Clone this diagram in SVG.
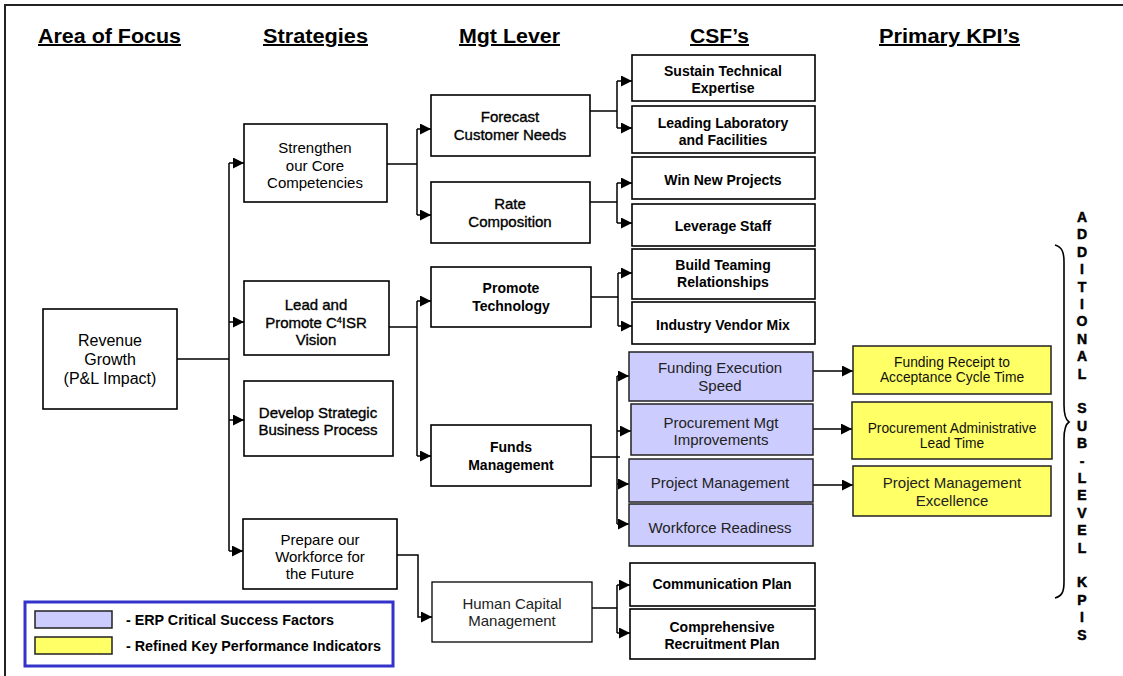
<svg xmlns="http://www.w3.org/2000/svg" width="1123" height="676" viewBox="0 0 1123 676">
<style>
text{font-family:"Liberation Sans",Arial,sans-serif;fill:#000;text-anchor:middle}
.hd{font-size:20px;font-weight:bold;text-decoration:underline;text-anchor:start}
.box{fill:#fff;stroke:#000;stroke-width:1.6}
.lav{fill:#ccccff;stroke:#222;stroke-width:1.5}
.yel{fill:#ffff66;stroke:#222;stroke-width:1.5}
.r{font-size:15px}
.m{font-size:15px;stroke:#000;stroke-width:0.35}
.b{font-size:14px;font-weight:bold}
.l{font-size:15px;fill:#222}
.y{font-size:13.8px;fill:#111}
.c{fill:none;stroke:#000;stroke-width:1.5}
.a{marker-end:url(#ah)}
.vt{font-size:14px;font-weight:bold;stroke:#000;stroke-width:0.5}
</style>
<defs>
<marker id="ah" markerUnits="userSpaceOnUse" markerWidth="12" markerHeight="11" refX="11" refY="5.5" orient="auto">
<path d="M0,0 L11,5.5 L0,11 Z" fill="#000"/>
</marker>
</defs>
<rect width="1123" height="676" fill="#fff"/>
<path d="M5,676 V5 H1123" fill="none" stroke="#222" stroke-width="2"/>

<g id="headers">
<text class="hd" x="38" y="43" textLength="143" lengthAdjust="spacingAndGlyphs">Area of Focus</text>
<text class="hd" x="263" y="43" textLength="105" lengthAdjust="spacingAndGlyphs">Strategies</text>
<text class="hd" x="459" y="43" textLength="101" lengthAdjust="spacingAndGlyphs">Mgt Lever</text>
<text class="hd" x="690" y="43" textLength="59" lengthAdjust="spacingAndGlyphs">CSF’s</text>
<text class="hd" x="879" y="43" textLength="141" lengthAdjust="spacingAndGlyphs">Primary KPI’s</text>
</g>

<g id="connectors">
<path class="c" d="M177,359 H229 M229,163 V551"/>
<path class="c a" d="M229,163 H244"/>
<path class="c a" d="M229,322 H244"/>
<path class="c a" d="M229,420 H244"/>
<path class="c a" d="M229,551 H243"/>
<path class="c" d="M387,164 H417 M417,129 V215"/>
<path class="c a" d="M417,129 H431"/>
<path class="c a" d="M417,215 H431"/>
<path class="c" d="M590,111 H617 M617,81 V128"/>
<path class="c a" d="M617,81 H632"/>
<path class="c a" d="M617,128 H632"/>
<path class="c" d="M590,202 H617 M617,183 V223"/>
<path class="c a" d="M617,183 H632"/>
<path class="c a" d="M617,223 H632"/>
<path class="c" d="M389,327 H417 M417,301 V456"/>
<path class="c a" d="M417,301 H431"/>
<path class="c a" d="M417,456 H431"/>
<path class="c" d="M591,297 H618 M618,273 V326"/>
<path class="c a" d="M618,273 H632"/>
<path class="c a" d="M618,326 H632"/>
<path class="c" d="M591,457 H620 M617,376 V524"/>
<path class="c a" d="M617,376 H629"/>
<path class="c a" d="M617,431 H631"/>
<path class="c a" d="M617,484 H629"/>
<path class="c a" d="M617,524 H629"/>
<path class="c a" d="M397,555 H418 V617 H432"/>
<path class="c" d="M592,608 H617 M617,585 V633"/>
<path class="c a" d="M617,585 H630"/>
<path class="c a" d="M617,633 H630"/>
<path class="c a" d="M813,371 H853"/>
<path class="c a" d="M813,429 H852"/>
<path class="c a" d="M813,485 H853"/>
</g>

<g id="revenue">
<rect class="box" x="43" y="309" width="134" height="100"/>
<text class="r" style="font-size:16px" x="110" y="346">Revenue</text>
<text class="r" style="font-size:16px" x="110" y="365">Growth</text>
<text class="r" style="font-size:16px" x="110" y="384">(P&amp;L Impact)</text>
</g>

<g id="strengthen">
<rect class="box" x="244" y="124" width="143" height="78"/>
<text class="r" x="315" y="153">Strengthen</text>
<text class="r" x="315" y="170.5">our Core</text>
<text class="r" x="315" y="188">Competencies</text>
</g>
<g id="lead">
<rect class="box" x="244" y="281" width="145" height="74"/>
<text class="m" x="316" y="310">Lead and</text>
<text class="m" x="316" y="328">Promote C<tspan font-size="9" dy="-5">4</tspan><tspan dy="5">ISR</tspan></text>
<text class="m" x="316" y="345">Vision</text>
</g>
<g id="develop">
<rect class="box" x="244" y="381" width="149" height="75"/>
<text class="m" x="318" y="418">Develop Strategic</text>
<text class="m" x="318" y="435">Business Process</text>
</g>
<g id="prepare">
<rect class="box" x="243" y="519" width="154" height="70"/>
<text class="r" x="320" y="545">Prepare our</text>
<text class="r" x="320" y="562">Workforce for</text>
<text class="r" x="320" y="579">the Future</text>
</g>

<g id="forecast">
<rect class="box" x="431" y="95" width="159" height="61"/>
<text class="m" x="510" y="122">Forecast</text>
<text class="m" x="510" y="140">Customer Needs</text>
</g>
<g id="rate">
<rect class="box" x="431" y="182" width="159" height="61"/>
<text class="m" x="510" y="209">Rate</text>
<text class="m" x="510" y="227">Composition</text>
</g>
<g id="promote-tech">
<rect class="box" x="431" y="267" width="160" height="60"/>
<text class="b" x="511" y="293">Promote</text>
<text class="b" x="511" y="311">Technology</text>
</g>
<g id="funds">
<rect class="box" x="431" y="425" width="160" height="61"/>
<text class="b" x="511" y="452">Funds</text>
<text class="b" x="511" y="470">Management</text>
</g>
<g id="human-capital">
<rect class="box" x="432" y="582" width="160" height="60" style="stroke-width:1.3"/>
<text class="l" x="512" y="609">Human Capital</text>
<text class="l" x="512" y="626">Management</text>
</g>

<g id="sustain">
<rect class="box" x="632" y="55" width="183" height="46"/>
<text class="b" x="723" y="76">Sustain Technical</text>
<text class="b" x="723" y="93">Expertise</text>
</g>
<g id="leading">
<rect class="box" x="632" y="106" width="183" height="47"/>
<text class="b" x="723" y="128">Leading Laboratory</text>
<text class="b" x="723" y="145">and Facilities</text>
</g>
<g id="win">
<rect class="box" x="632" y="157" width="183" height="42"/>
<text class="b" x="723" y="185">Win New Projects</text>
</g>
<g id="leverage">
<rect class="box" x="632" y="204" width="183" height="42"/>
<text class="b" x="723" y="231">Leverage Staff</text>
</g>
<g id="build">
<rect class="box" x="632" y="249" width="183" height="50"/>
<text class="b" x="723" y="270">Build Teaming</text>
<text class="b" x="723" y="287">Relationships</text>
</g>
<g id="industry">
<rect class="box" x="632" y="302" width="183" height="42"/>
<text class="b" x="723" y="330">Industry Vendor Mix</text>
</g>
<g id="funding-exec">
<rect class="lav" x="629" y="352" width="184" height="49"/>
<text class="l" x="720" y="373">Funding Execution</text>
<text class="l" x="720" y="391">Speed</text>
</g>
<g id="procurement">
<rect class="lav" x="631" y="404" width="182" height="51"/>
<text class="l" x="721" y="428">Procurement Mgt</text>
<text class="l" x="721" y="445">Improvements</text>
</g>
<g id="project-mgmt">
<rect class="lav" x="629" y="459" width="184" height="43"/>
<text class="l" x="720" y="488">Project Management</text>
</g>
<g id="workforce">
<rect class="lav" x="629" y="504" width="184" height="42"/>
<text class="l" x="720" y="533">Workforce Readiness</text>
</g>
<g id="communication">
<rect class="box" x="630" y="563" width="185" height="43"/>
<text class="b" x="722" y="589">Communication Plan</text>
</g>
<g id="comprehensive">
<rect class="box" x="630" y="609" width="185" height="50"/>
<text class="b" x="722" y="632">Comprehensive</text>
<text class="b" x="722" y="649">Recruitment Plan</text>
</g>

<g id="kpi-funding">
<rect class="yel" x="853" y="346" width="198" height="48"/>
<text class="y" x="952" y="367">Funding Receipt to</text>
<text class="y" x="952" y="382">Acceptance Cycle Time</text>
</g>
<g id="kpi-procurement">
<rect class="yel" x="852" y="402" width="200" height="57"/>
<text class="y" x="952" y="433">Procurement Administrative</text>
<text class="y" x="952" y="448">Lead Time</text>
</g>
<g id="kpi-project">
<rect class="yel" x="853" y="466" width="198" height="50"/>
<text class="l" x="952" y="488">Project Management</text>
<text class="l" x="952" y="506">Excellence</text>
</g>

<g id="brace">
<path d="M1055,245 C1062,247 1064,252 1064,262 V405 C1064,415 1066,420 1069,422 C1066,424 1064,429 1064,439 V582 C1064,592 1062,596 1055,598" fill="none" stroke="#000" stroke-width="1.6"/>
<text class="vt" x="1082" y="222"><tspan x="1082">A</tspan><tspan x="1082" dy="17.4">D</tspan><tspan x="1082" dy="17.4">D</tspan><tspan x="1082" dy="17.4">I</tspan><tspan x="1082" dy="17.4">T</tspan><tspan x="1082" dy="17.4">I</tspan><tspan x="1082" dy="17.4">O</tspan><tspan x="1082" dy="17.4">N</tspan><tspan x="1082" dy="17.4">A</tspan><tspan x="1082" dy="17.4">L</tspan><tspan x="1082" dy="34.8">S</tspan><tspan x="1082" dy="17.4">U</tspan><tspan x="1082" dy="17.4">B</tspan><tspan x="1082" dy="17.4">-</tspan><tspan x="1082" dy="17.4">L</tspan><tspan x="1082" dy="17.4">E</tspan><tspan x="1082" dy="17.4">V</tspan><tspan x="1082" dy="17.4">E</tspan><tspan x="1082" dy="17.4">L</tspan><tspan x="1082" dy="34.8">K</tspan><tspan x="1082" dy="17.4">P</tspan><tspan x="1082" dy="17.4">I</tspan><tspan x="1082" dy="17.4">S</tspan></text>
</g>

<g id="legend">
<rect x="25" y="602" width="368" height="64" fill="#fff" stroke="#3333cc" stroke-width="3"/>
<rect class="lav" x="35" y="611" width="77" height="17"/>
<rect class="yel" x="35" y="637" width="77" height="17"/>
<text class="b" style="text-anchor:start;font-size:14.3px" x="126" y="625">- ERP Critical Success Factors</text>
<text class="b" style="text-anchor:start;font-size:14.3px" x="126" y="651">- Refined Key Performance Indicators</text>
</g>
</svg>
